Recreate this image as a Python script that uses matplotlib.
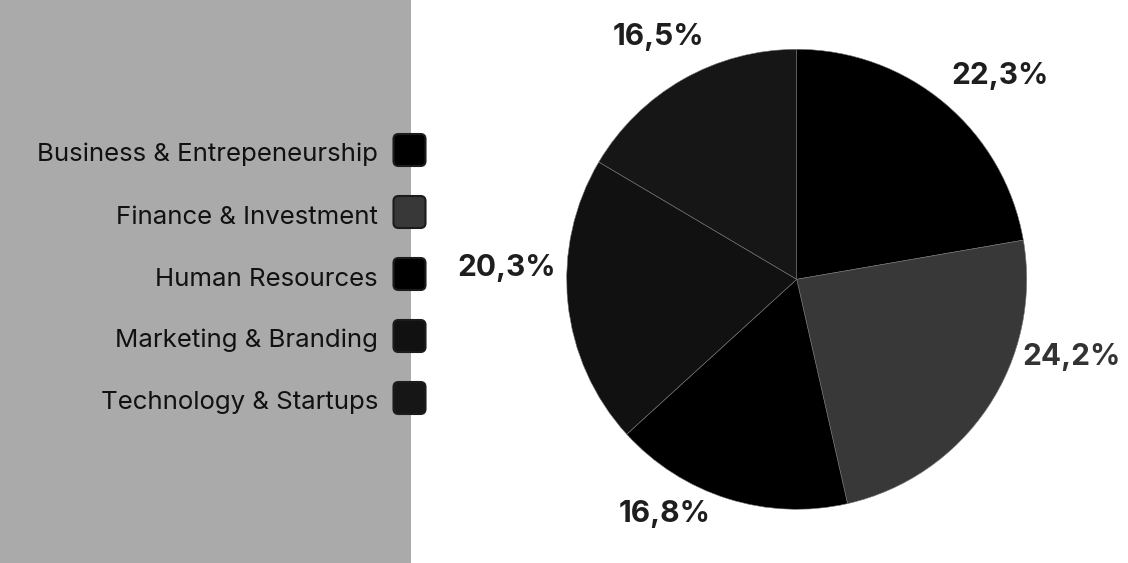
import matplotlib
matplotlib.use("Agg")
import matplotlib.pyplot as plt
from matplotlib.patches import FancyBboxPatch, Rectangle
import numpy as np

categories = ["Business & Entrepeneurship", "Finance & Investment", "Human Resources",
              "Marketing & Branding", "Technology & Startups"]
values = [22.3, 24.2, 16.8, 20.3, 16.5]
labels = ["22,3%", "24,2%", "16,8%", "20,3%", "16,5%"]
colors = ["#000000", "#383838", "#000000", "#111111", "#161616"]
label_colors = ["#1e1e1e", "#333333", "#1e1e1e", "#1e1e1e", "#1e1e1e"]
# style tweaks for label placement (angle shift in degrees, radius factor)
label_shift = [-5, 18, -12, -8, 0]
label_radius = [1.25, 1.24, 1.17, 1.26, 1.21]

FONT = ["Inter", "DejaVu Sans"]
W, H = 1128, 563
fig = plt.figure(figsize=(W / 100, H / 100), dpi=100)
fig.patch.set_facecolor("white")

# background / legend axes in pixel coordinates
bg = fig.add_axes([0, 0, 1, 1])
bg.set_xlim(0, W)
bg.set_ylim(H, 0)
bg.axis("off")
bg.add_patch(Rectangle((0, 0), 411, H, facecolor="#aaaaaa", edgecolor="none"))

row_step = 62
for i, (cat, col) in enumerate(zip(categories, colors)):
    yb = 161.5 + i * row_step
    ym = 150 + i * row_step
    bg.text(378, yb, cat, ha="right", va="baseline", fontsize=18.6,
            color="#111111", family=FONT)
    bg.add_patch(FancyBboxPatch((393.5, ym - 16), 32, 32,
                                boxstyle="round,pad=0,rounding_size=5",
                                facecolor=col, edgecolor="#1c1c1c", linewidth=1.5))

# pie axes
cx, cy, r = 796.7, 279.3, 230
ax = fig.add_axes([(cx - r) / W, (H - cy - r) / H, 2 * r / W, 2 * r / H])
wedges, _ = ax.pie(values, colors=colors, startangle=90, counterclock=False,
                   wedgeprops=dict(edgecolor="#777777", linewidth=0.4))
ax.set_xlim(-1, 1)
ax.set_ylim(-1, 1)
ax.set_aspect("equal")
ax.axis("off")

for w, lab, lc, sh, rr in zip(wedges, labels, label_colors, label_shift, label_radius):
    mid = np.deg2rad((w.theta1 + w.theta2) / 2 + sh)
    ax.text(rr * np.cos(mid), rr * np.sin(mid), lab, ha="center", va="center",
            fontsize=21.5, fontweight="bold", color=lc, family=FONT, clip_on=False)

fig.savefig("out.png", dpi=100)
